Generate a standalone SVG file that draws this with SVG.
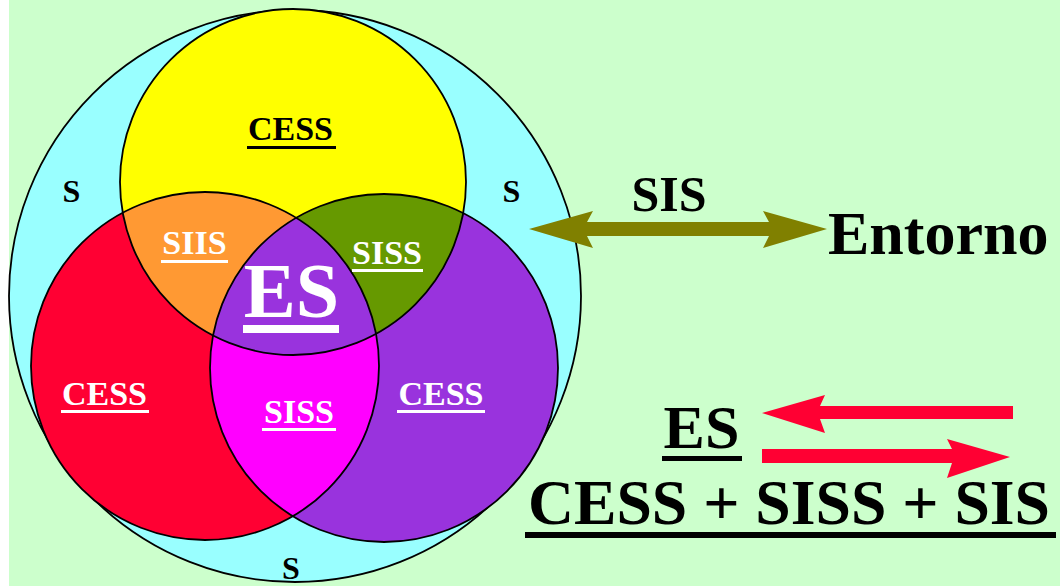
<svg xmlns="http://www.w3.org/2000/svg" width="1060" height="586" viewBox="0 0 1060 586">
  <style>
    .t { font-family: "Liberation Serif", "Times New Roman", serif; font-weight: bold; text-anchor: middle; }
    .w { fill: #FFFFFF; }
    .k { fill: #000000; }
    .ol { fill: none; stroke: #000000; stroke-width: 1.8; }
  </style>
  <defs>
    <clipPath id="cY"><circle cx="293" cy="182" r="173"/></clipPath>
    <clipPath id="cR"><circle cx="205" cy="366" r="174"/></clipPath>
    <clipPath id="cP"><circle cx="384" cy="368" r="174"/></clipPath>
  </defs>
  <rect x="0" y="0" width="1060" height="586" fill="#CCFFCC"/>
  <rect x="0" y="0" width="9" height="586" fill="#FFFFFF"/>

  <g id="sistema">
    <circle cx="295" cy="296" r="286" fill="#99FFFF" stroke="#000" stroke-width="1.8"/>
    <text class="t k" x="71.5" y="202" font-size="32">S</text>
    <text class="t k" x="511.5" y="202" font-size="32">S</text>
    <text class="t k" x="291" y="579" font-size="32">S</text>
  </g>

  <g id="venn">
    <circle cx="205" cy="366" r="174" fill="#FF0033"/>
    <circle cx="384" cy="368" r="174" fill="#9933DD"/>
    <circle cx="293" cy="182" r="173" fill="#FFFF00"/>
    <circle cx="205" cy="366" r="174" fill="#FF9933" clip-path="url(#cY)"/>
    <circle cx="384" cy="368" r="174" fill="#669900" clip-path="url(#cY)"/>
    <circle cx="384" cy="368" r="174" fill="#FF00FF" clip-path="url(#cR)"/>
    <g clip-path="url(#cY)">
      <circle cx="205" cy="366" r="174" fill="#9933DD" clip-path="url(#cP)"/>
    </g>
    <circle class="ol" cx="205" cy="366" r="174"/>
    <circle class="ol" cx="384" cy="368" r="174"/>
    <circle class="ol" cx="293" cy="182" r="173"/>
  </g>

  <g id="cess-yellow">
    <text class="t k" x="290.5" y="140" font-size="34">CESS</text>
    <rect x="247" y="146" width="89" height="3" fill="#000"/>
  </g>
  <g id="siis">
    <text class="t w" x="194.5" y="254" font-size="34">SIIS</text>
    <rect x="161" y="260" width="67" height="3" fill="#FFF"/>
  </g>
  <g id="siss-green">
    <text class="t w" x="387" y="264" font-size="34">SISS</text>
    <rect x="352" y="269" width="71" height="3" fill="#FFF"/>
  </g>
  <g id="es-center">
    <text class="t w" x="291.5" y="317" font-size="78">ES</text>
    <rect x="243" y="325" width="96" height="8" fill="#FFF"/>
  </g>
  <g id="cess-red">
    <text class="t w" x="104.5" y="405" font-size="34">CESS</text>
    <rect x="61" y="410" width="88" height="3" fill="#FFF"/>
  </g>
  <g id="siss-magenta">
    <text class="t w" x="299" y="423" font-size="34">SISS</text>
    <rect x="262" y="428" width="74" height="3" fill="#FFF"/>
  </g>
  <g id="cess-purple">
    <text class="t w" x="441" y="405" font-size="34">CESS</text>
    <rect x="397" y="410" width="88" height="3" fill="#FFF"/>
  </g>

  <g id="entorno">
    <text class="t k" x="828" y="254" font-size="62" style="text-anchor:start">Entorno</text>
  </g>
  <g id="sis-label">
    <text class="t k" x="669" y="211" font-size="50">SIS</text>
  </g>

  <g id="formula">
    <text class="t k" x="701.5" y="448" font-size="62">ES</text>
    <rect x="662" y="456" width="80" height="5" fill="#000"/>
    <text class="t k" x="528" y="524" font-size="63.5" style="text-anchor:start" textLength="522" lengthAdjust="spacingAndGlyphs">CESS + SISS + SIS</text>
    <rect x="525" y="532" width="531" height="6" fill="#000"/>
  </g>

  <g id="connectors">
    <rect x="585" y="222" width="186" height="14" fill="#808000"/>
    <polygon points="827,229 763,211 769,222 769,236 763,248" fill="#808000"/>
    <polygon points="529,229 593,211 587,222 587,236 593,248" fill="#808000"/>
    <polygon points="762,413 825,395 820,406 1013,406 1013,419 820,419 825,433" fill="#FF0033"/>
    <polygon points="762,449 952,449 947,439 1010,457 947,478 952,463 762,463" fill="#FF0033"/>
  </g>
</svg>
